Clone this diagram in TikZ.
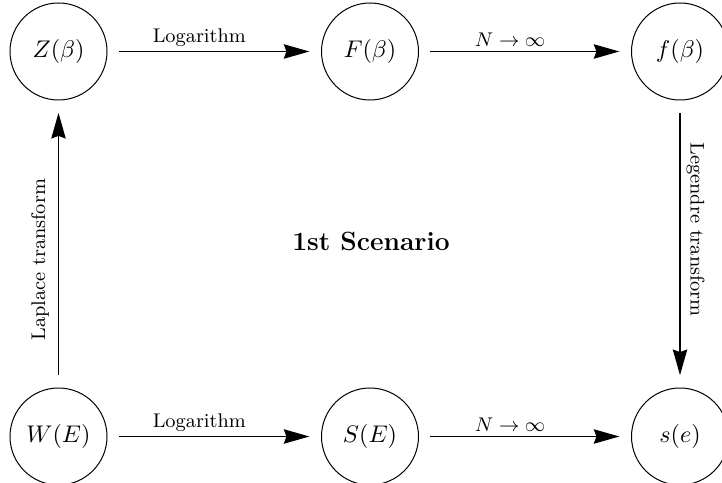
\documentclass[tikz,border=0pt]{standalone}
\usepackage{graphicx}
\usetikzlibrary{arrows.meta}
\newcommand{\mysc}[1]{\scalebox{1.1}{#1}}
\begin{document}
\begin{tikzpicture}[x=0.5pt,y=0.5pt,
  state/.style={draw, circle, line width=0.5pt, minimum size=48.5pt, inner sep=0pt, font=\fontsize{10.95}{13.6}\selectfont},
  tip/.style={-{Stealth[length=12.8pt,width=7.2pt,inset=1.3pt]}},
  conn/.style={tip, line width=0.6pt, shorten <=5.5pt, shorten >=5.8pt},
  vconn/.style={tip, line width=0.6pt, shorten <=6.2pt, shorten >=6.2pt},
  lbl/.style={font=\fontsize{9}{11}\selectfont, inner sep=0pt}]
\useasboundingbox (0,0) rectangle (722,482);
\node[state] (Z) at (58.5,430.5) {\mysc{$Z(\beta)$}};
\node[state] (F) at (370,430.5) {\mysc{$F(\beta)$}};
\node[state] (f) at (680,430.5) {\mysc{$f(\beta)$}};
\node[state] (W) at (58.5,45.5) {\mysc{$W(E)$}};
\node[state] (S) at (370,45.5) {\mysc{$S(E)$}};
\node[state] (s) at (680,45.5) {\mysc{$s(e)$}};
\draw[conn] (Z) -- node[lbl, pos=0.43, above=2pt] {\mysc{Logarithm}} (F);
\draw[conn] (F) -- node[lbl, pos=0.43, above=2pt] {\mysc{$N\to\infty$}} (f);
\draw[conn] (W) -- node[lbl, pos=0.43, above=2pt] {\mysc{Logarithm}} (S);
\draw[conn] (S) -- node[lbl, pos=0.43, above=2pt] {\mysc{$N\to\infty$}} (s);
\draw[vconn] (W) -- node[lbl, pos=0.445, rotate=90, anchor=south, inner sep=0pt, yshift=4.5pt] {\mysc{Laplace transform}} (Z);
\draw[vconn] (f) -- node[lbl, pos=0.45, rotate=-90, anchor=south, inner sep=0pt, yshift=3pt] {\mysc{Legendre transform}} (s);
\node[font=\fontsize{12}{14}\selectfont\bfseries] (title) at (371,241) {\mysc{1st Scenario}};
\end{tikzpicture}
\end{document}
